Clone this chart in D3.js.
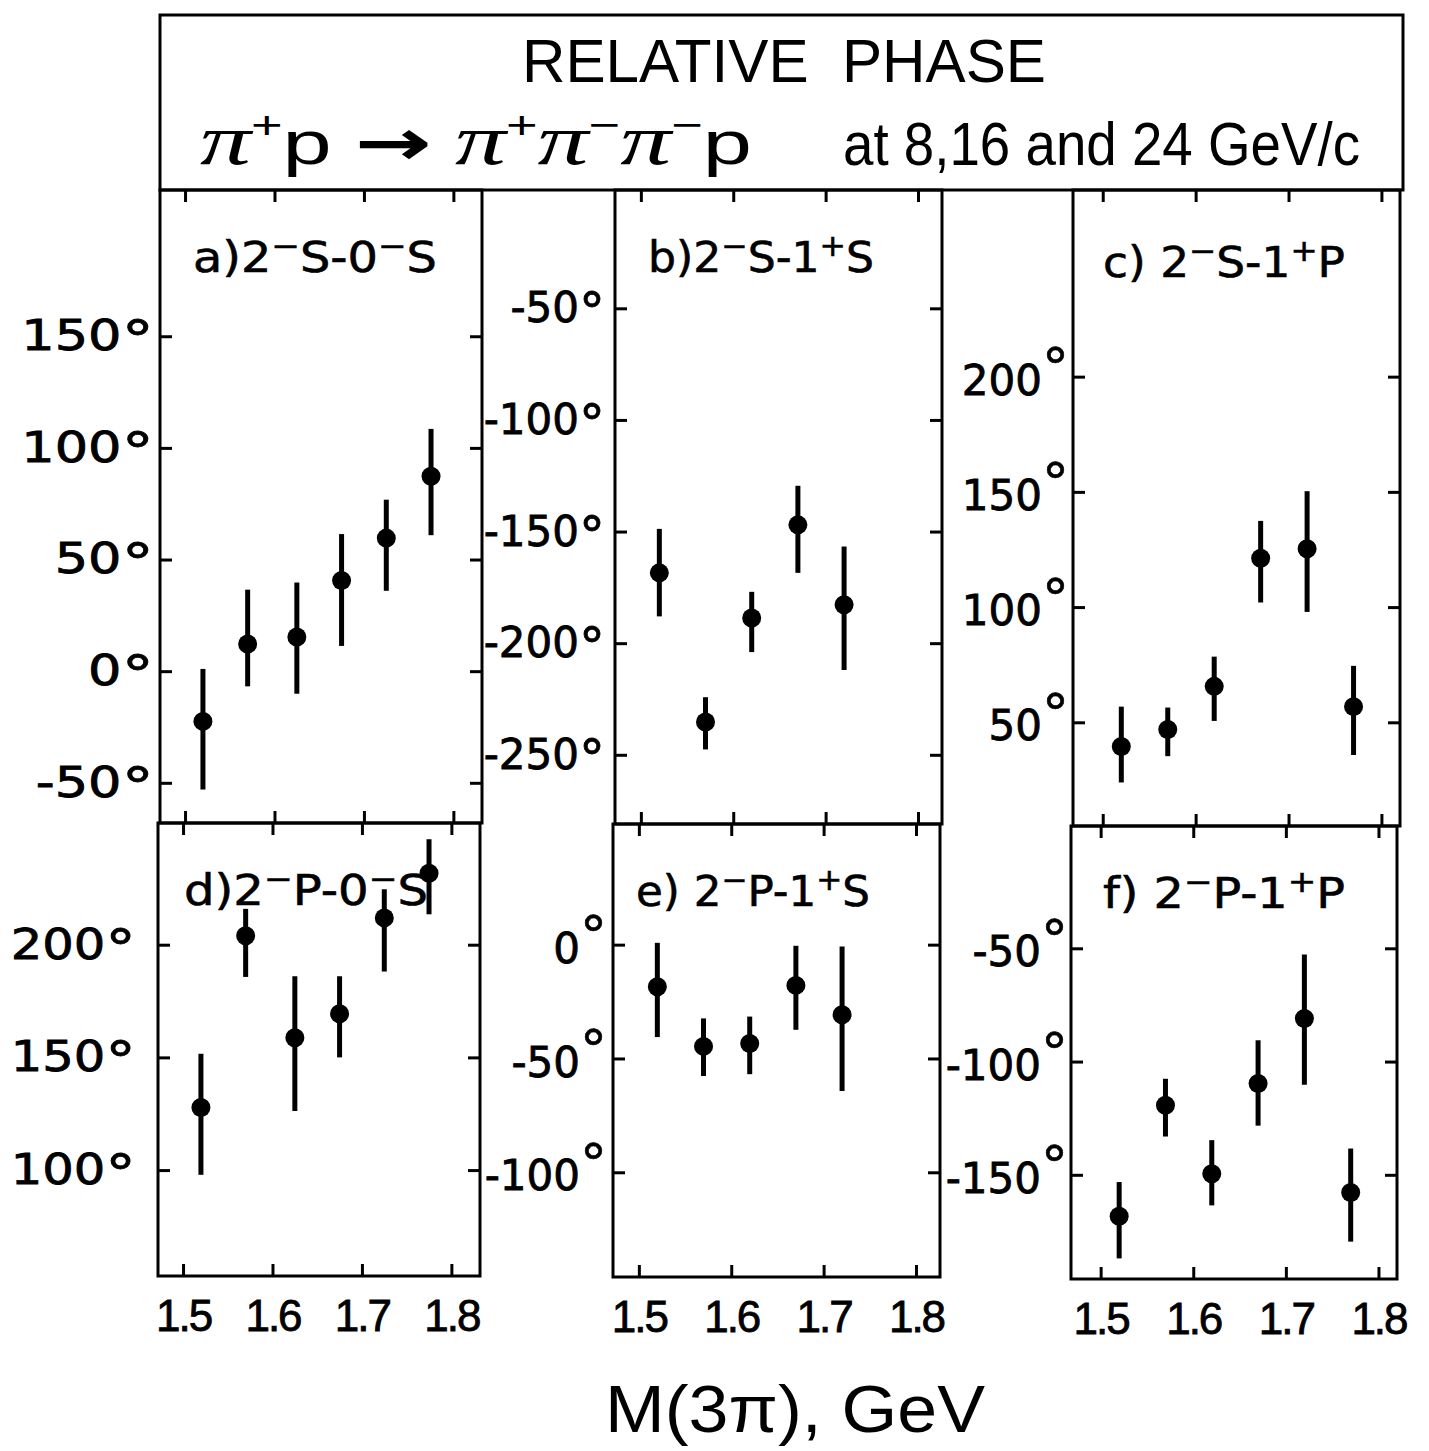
<!DOCTYPE html>
<html><head><meta charset="utf-8">
<script src="https://cdn.jsdelivr.net/npm/d3@7"></script>
<style>body{margin:0;background:#fff}</style>
</head><body>
<svg id="chart" width="1429" height="1451"></svg>
<script>
// ---------------- data ----------------
const xTicks = [1.5, 1.6, 1.7, 1.8];
const xTickLabels = ["1.5", "1.6", "1.7", "1.8"];

const massA = [1.52, 1.57, 1.625, 1.675, 1.725, 1.775];
const phaseA   = [-22.5, 12.2, 15.3, 40.6, 59.6, 87.3];
const phaseAHi = [1, 36.5, 39.7, 61.4, 76.8, 108.5];
const phaseALo = [-53, -6.8, -10.1, 11.3, 36, 60.9];
const yTicksA = [-50, 0, 50, 100, 150];

const massB = [1.52, 1.57, 1.62, 1.67, 1.72];
const phaseB   = [-168.5, -235.3, -188.7, -147, -182.8];
const phaseBHi = [-148.8, -224.2, -177, -129.5, -156.7];
const phaseBLo = [-188, -247.6, -204, -168.5, -212];
const yTicksB = [-250, -200, -150, -100, -50];

const massC = [1.52, 1.57, 1.62, 1.67, 1.72, 1.77];
const phaseC   = [39.5, 46.9, 65.6, 121.2, 125.3, 56.8];
const phaseCHi = [56.8, 56.4, 78.5, 137.4, 150.3, 74.5];
const phaseCLo = [23.9, 35.3, 50.6, 102, 97.9, 35.8];
const yTicksC = [50, 100, 150, 200];

const massD = [1.52, 1.57, 1.625, 1.675, 1.725, 1.775];
const phaseD   = [127.8, 204, 158.7, 169.4, 211.9, 231.7];
const phaseDHi = [151.6, 215.9, 186, 186, 224.6, 246.8];
const phaseDLo = [97.9, 185.7, 126.2, 150, 188.1, 213.5];
const yTicksD = [100, 150, 200];

const massE = [1.52, 1.57, 1.62, 1.67, 1.72];
const phaseE   = [-18.5, -44.7, -43.4, -17.9, -30.8];
const phaseEHi = [0.8, -32.4, -31.6, -0.5, -0.8];
const phaseELo = [-40.6, -57.7, -56.9, -37.4, -64.3];
const yTicksE = [-100, -50, 0];

const massF = [1.52, 1.57, 1.62, 1.67, 1.72, 1.77];
const phaseF   = [-168.3, -119.3, -149.5, -109.7, -81, -157.8];
const phaseFHi = [-153.2, -107.6, -134.7, -90.6, -52.7, -138.4];
const phaseFLo = [-186.9, -133.1, -163.5, -128.3, -110.2, -179.5];
const yTicksF = [-150, -100, -50];

const panelTitles = ["a)2^-S-0^-S", "b)2^-S-1^+S", "c) 2^-S-1^+P",
                     "d)2^-P-0^-S", "e) 2^-P-1^+S", "f) 2^-P-1^+P"];
const titleLine1 = "RELATIVE\u00a0\u00a0PHASE";
const titleReaction = "\u03c0^+p \u2192 \u03c0^+\u03c0^-\u03c0^-p";
const titleEnergy = "at 8,16 and 24 GeV/c";
const xAxisTitle = "M(3\u03c0), GeV";

// ---------------- layout ----------------
const layout = [
  {x0:160, x1:482, y0:190, y1:823, xd:[1.472,1.832], yd:[-68,215.5], pad:6,  sx:1.25, raised:false, tx:33, ty:82, tw:244, bottom:false},
  {x0:615, x1:942, y0:190, y1:824, xd:[1.472,1.826], yd:[-281,3],    pad:10, sx:1.0,  raised:false, tx:33, ty:82, tw:226, bottom:false},
  {x0:1073,x1:1400,y0:190, y1:826, xd:[1.468,1.820], yd:[5,281],     pad:31, sx:1.0,  raised:true,  tx:30, ty:87, tw:242, bottom:false},
  {x0:158, x1:480, y0:823, y1:1276,xd:[1.472,1.832], yd:[53,254],    pad:22, sx:1.18, raised:false, tx:26, ty:82, tw:244, bottom:true},
  {x0:613, x1:940, y0:824, y1:1277,xd:[1.472,1.826], yd:[-146,53],   pad:33, sx:1.0,  raised:true,  tx:23, ty:82, tw:234, bottom:true},
  {x0:1071,x1:1397,y0:826, y1:1279,xd:[1.468,1.820], yd:[-196,4],    pad:30, sx:1.0,  raised:true,  tx:32, ty:82, tw:242, bottom:true}
];
const series = [
  {m:massA, v:phaseA, hi:phaseAHi, lo:phaseALo, yt:yTicksA},
  {m:massB, v:phaseB, hi:phaseBHi, lo:phaseBLo, yt:yTicksB},
  {m:massC, v:phaseC, hi:phaseCHi, lo:phaseCLo, yt:yTicksC},
  {m:massD, v:phaseD, hi:phaseDHi, lo:phaseDLo, yt:yTicksD},
  {m:massE, v:phaseE, hi:phaseEHi, lo:phaseELo, yt:yTicksE},
  {m:massF, v:phaseF, hi:phaseFHi, lo:phaseFLo, yt:yTicksF}
];

const svg = d3.select("#chart");
svg.append("rect").attr("width",1429).attr("height",1451).attr("fill","#fff");

// rich text helper: "^x" -> superscript x; π drawn in an italic serif face
function rich(sel, s, supSize, shift, piFont) {
  let i = 0, down = false;
  const add = (txt, opts) => {
    const t = sel.append("tspan").text(txt);
    if (opts && opts.sup) { t.attr("font-size", supSize).attr("dy", -shift); down = true; return t; }
    if (down) { t.attr("dy", shift); down = false; }
    if (opts && opts.pi) t.attr("font-family", piFont).attr("font-style","italic").attr("font-size","1.15em");
    if (opts && opts.arrow) t.attr("font-family","DejaVu Sans, sans-serif").attr("stroke","#000").attr("stroke-width",2);
    return t;
  };
  while (i < s.length) {
    if (s[i] === '^') {
      add(s[i+1] === '-' ? '\u2212' : s[i+1], {sup:true}); i += 2;
    } else if (piFont && s[i] === '\u03c0') {
      add('\u03c0', {pi:true}); i += 1;
    } else if (piFont && s[i] === '\u2192') {
      add('\u2192', {arrow:true}); i += 1;
    } else {
      let j = i;
      while (j < s.length && s[j] !== '^' && !(piFont && (s[j] === '\u03c0' || s[j] === '\u2192'))) j++;
      add(s.slice(i, j)); i = j;
    }
  }
}

// ---------------- title box ----------------
svg.append("rect").attr("x",160).attr("y",15).attr("width",1243).attr("height",175)
  .attr("fill","none").attr("stroke","#000").attr("stroke-width",3);
svg.append("text").attr("x",522).attr("y",82)
  .attr("font-family","Liberation Sans, Arial, sans-serif").attr("font-size",62)
  .attr("textLength",524).attr("lengthAdjust","spacingAndGlyphs").text(titleLine1);
const tr = svg.append("text").attr("x",200).attr("y",164)
  .attr("font-family","Liberation Sans, Arial, sans-serif").attr("font-size",62)
  .attr("textLength",552).attr("lengthAdjust","spacingAndGlyphs");
rich(tr, titleReaction, 38, 26, "Liberation Serif, serif");
svg.append("text").attr("x",843).attr("y",165)
  .attr("font-family","Liberation Sans, Arial, sans-serif").attr("font-size",62)
  .attr("textLength",517).attr("lengthAdjust","spacingAndGlyphs").text(titleEnergy);

// ---------------- panels ----------------
layout.forEach((p, k) => {
  const s = series[k];
  const w = p.x1 - p.x0, h = p.y1 - p.y0;
  const g = svg.append("g").attr("transform", `translate(${p.x0},${p.y0})`);
  const x = d3.scaleLinear().domain(p.xd).range([0, w]);
  const y = d3.scaleLinear().domain(p.yd).range([h, 0]);

  g.append("rect").attr("width", w).attr("height", h)
    .attr("fill","none").attr("stroke","#000").attr("stroke-width",3);

  const styleAxis = (ag) => {
    ag.select(".domain").remove();
    ag.selectAll(".tick line").attr("stroke","#000").attr("stroke-width",3);
  };

  // left axis with labels
  const gl = g.append("g").call(d3.axisLeft(y).tickValues(s.yt)
      .tickSizeInner(-12).tickSizeOuter(0).tickPadding(p.pad).tickFormat(d => d));
  styleAxis(gl);
  gl.attr("font-family","DejaVu Sans, sans-serif").attr("font-size",42);
  gl.selectAll(".tick text").attr("fill","#000").attr("stroke","#000").attr("stroke-width",0.8)
    .each(function(d) {
    const t = d3.select(this);
    t.text(null);
    if (p.raised) {
      t.attr("dy","0.42em").text(String(d));
      d3.select(this.parentNode).append("text")
        .attr("x", -p.pad).attr("y", 9).attr("text-anchor","start")
        .attr("font-size",54).attr("fill","#000").attr("stroke","#000").attr("stroke-width",0.6)
        .text("\u00b0");
    } else {
      t.attr("x", 0).attr("transform", `translate(${-p.pad},0) scale(${p.sx},1)`);
      t.append("tspan").text(String(d));
      t.append("tspan").attr("font-size",52).attr("dy",7).text("\u00b0");
    }
  });

  // right axis
  const gr = g.append("g").attr("transform",`translate(${w},0)`)
    .call(d3.axisRight(y).tickValues(s.yt).tickSizeInner(-12).tickSizeOuter(0).tickFormat(""));
  styleAxis(gr);
  // top axis
  const gt = g.append("g")
    .call(d3.axisTop(x).tickValues(xTicks).tickSizeInner(-12).tickSizeOuter(0).tickFormat(""));
  styleAxis(gt);
  // bottom axis
  const gb = g.append("g").attr("transform",`translate(0,${h})`)
    .call(d3.axisBottom(x).tickValues(xTicks).tickSizeInner(-12).tickSizeOuter(0).tickPadding(24)
      .tickFormat(p.bottom ? ((d, i) => xTickLabels[i]) : ""));
  styleAxis(gb);
  gb.attr("font-family","Liberation Sans, Arial, sans-serif").attr("font-size",44);
  gb.selectAll(".tick text").attr("fill","#000").attr("stroke","#000").attr("stroke-width",0.8)
    .attr("letter-spacing",-2);

  // panel title
  const pt = g.append("text").attr("x", p.tx).attr("y", p.ty)
    .attr("font-family","DejaVu Sans, sans-serif").attr("font-size",42)
    .attr("stroke","#000").attr("stroke-width",0.6)
    .attr("textLength", p.tw).attr("lengthAdjust","spacingAndGlyphs");
  rich(pt, panelTitles[k], 30, 16, null);

  // error bars and points
  const idx = d3.range(s.m.length);
  g.selectAll("line.err").data(idx).join("line").attr("class","err")
    .attr("x1", i => x(s.m[i])).attr("x2", i => x(s.m[i]))
    .attr("y1", i => y(s.lo[i])).attr("y2", i => y(s.hi[i]))
    .attr("stroke","#000").attr("stroke-width",5);
  g.selectAll("circle.pt").data(idx).join("circle").attr("class","pt")
    .attr("cx", i => x(s.m[i])).attr("cy", i => y(s.v[i])).attr("r", 9.5).attr("fill","#000");
});

// x-axis title
svg.append("text").attr("x",605).attr("y",1432)
  .attr("font-family","Liberation Sans, Arial, sans-serif").attr("font-size",66)
  .attr("textLength",380).attr("lengthAdjust","spacingAndGlyphs").text(xAxisTitle);
</script>
</body></html>
